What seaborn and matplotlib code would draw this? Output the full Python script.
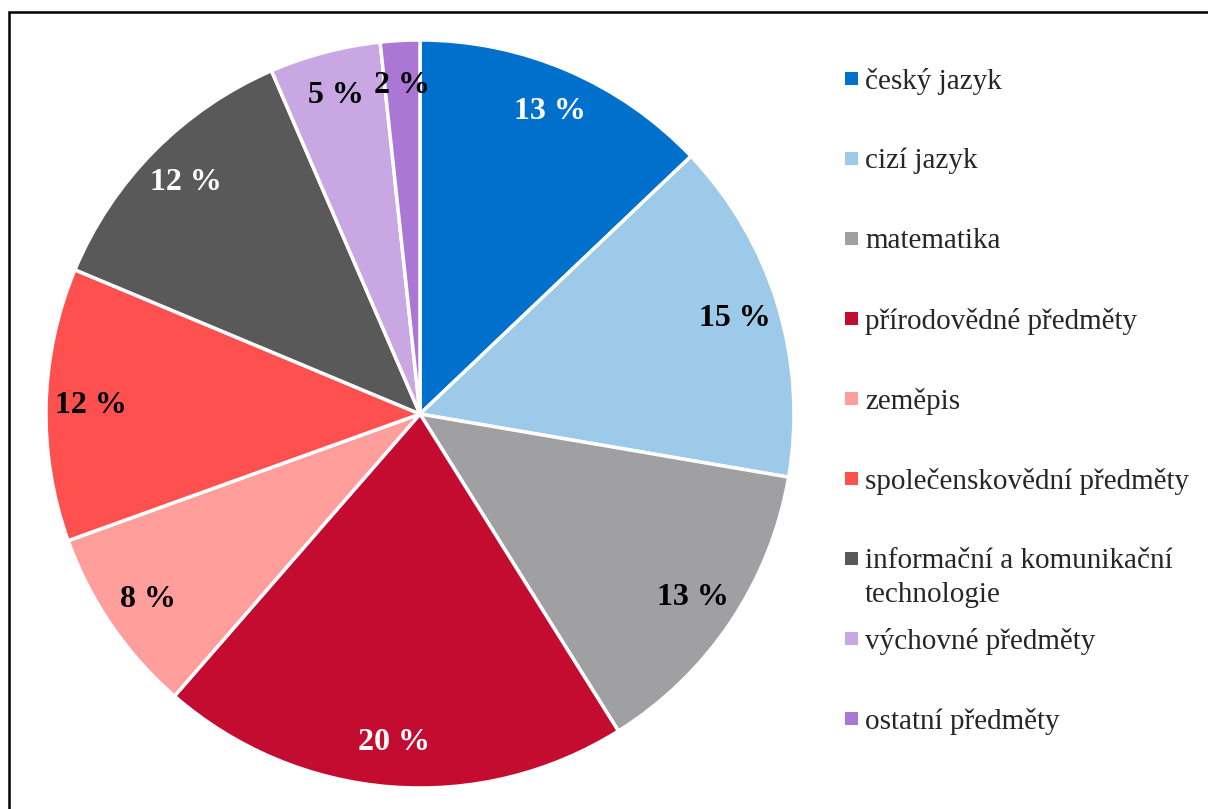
import matplotlib
matplotlib.use("Agg")
import matplotlib.pyplot as plt
from matplotlib.patches import Rectangle
import seaborn as sns

# data (percent of answers)
SUBJECTS = [
    "český jazyk",
    "cizí jazyk",
    "matematika",
    "přírodovědné předměty",
    "zeměpis",
    "společenskovědní předměty",
    "informační a komunikační\ntechnologie",
    "výchovné předměty",
    "ostatní předměty",
]
SHARES = [12.9, 14.8, 13.4, 20.3, 8.1, 11.8, 12.2, 4.8, 1.7]
COLORS = ["#0070CD", "#9DCAE8", "#A0A0A3", "#C40C30", "#FF9E9B",
          "#FF5050", "#595959", "#C8A7E3", "#AA77D5"]
LABEL_COLORS = ["white", "black", "black", "white", "black",
                "black", "white", "black", "black"]

W, H, DPI = 1208, 809, 100
SERIF = ["Liberation Serif", "DejaVu Serif"]

sns.set_style("white")
plt.rcParams["font.family"] = SERIF

fig = plt.figure(figsize=(W / DPI, H / DPI), dpi=DPI)
fig.patch.set_facecolor("white")

# pie axes placed so the pie sits at the same pixel spot as the reference
cx, cy, r = 420, 414, 374
ax = fig.add_axes([(cx - r) / W, (H - cy - r) / H, 2 * r / W, 2 * r / H])

palette = sns.color_palette(COLORS)
wedges, texts, autotexts = ax.pie(
    SHARES,
    colors=palette,
    startangle=90,
    counterclock=False,
    autopct=lambda p: f"{p:.0f} %",
    pctdistance=0.88,
    wedgeprops=dict(edgecolor="white", linewidth=2.5),
    textprops=dict(fontsize=23, fontweight="bold", family=SERIF),
)
for t, c in zip(autotexts, LABEL_COLORS):
    t.set_color(c)
ax.set_xlim(-1, 1)
ax.set_ylim(-1, 1)
ax.set_aspect("equal")
ax.axis("off")

# legend drawn as fixed slots, like the original (wrapped label runs downward)
leg_x, leg_y0, leg_step, box = 845, 78, 80, 13
for i, (name, color) in enumerate(zip(SUBJECTS, palette)):
    y = leg_y0 + leg_step * i
    fig.add_artist(Rectangle((leg_x / W, (H - y - box / 2) / H), box / W, box / H,
                             transform=fig.transFigure, facecolor=color,
                             edgecolor="none"))
    fig.text((leg_x + 20) / W, (H - y + 10) / H, name, fontsize=21,
             family=SERIF, va="top", ha="left", linespacing=1.38)

# outer frame (runs off the right and bottom edge in the reference)
fig.add_artist(Rectangle((9 / W, -0.05), 1.2, (H - 12) / H + 0.05,
                         transform=fig.transFigure, fill=False,
                         edgecolor="black", linewidth=1.8, clip_on=False))

fig.savefig("out.png", dpi=DPI, facecolor="white")
